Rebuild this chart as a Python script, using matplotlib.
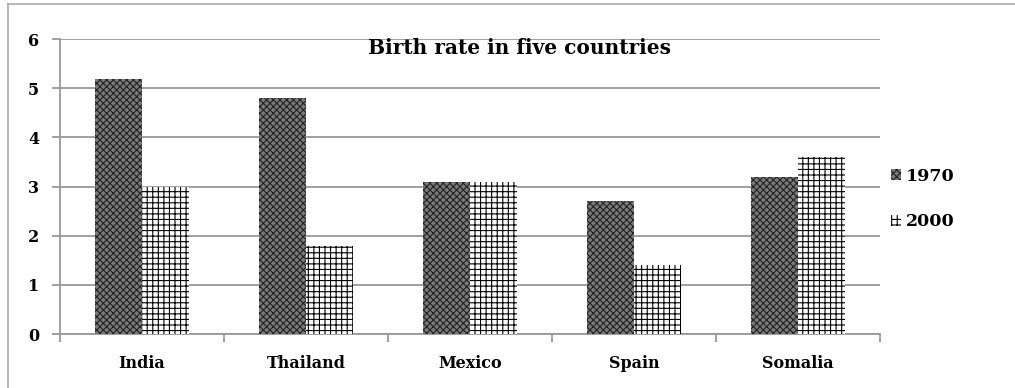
import numpy as np
import matplotlib
matplotlib.use("Agg")
from matplotlib import pyplot as plt
from matplotlib.lines import Line2D

countries = ["India", "Thailand", "Mexico", "Spain", "Somalia"]
rate_1970 = [5.2, 4.8, 3.1, 2.7, 3.2]
rate_2000 = [3.0, 1.8, 3.1, 1.4, 3.6]
series_names = ["1970", "2000"]

plt.rcParams['font.family'] = ['DejaVu Serif']
plt.rcParams['hatch.linewidth'] = 0.8

fig = plt.figure(figsize=(10.15, 3.88), dpi=100)
ax = fig.add_axes([0.059, 0.139, 0.808, 0.760])

x = np.arange(len(countries))
w = 0.287
b1 = ax.bar(x - w / 2, rate_1970, w, color='#7a7a7a', edgecolor='#222222',
            hatch='xxxxx', linewidth=0, label=series_names[0], zorder=3)
b2 = ax.bar(x + w / 2, rate_2000, w, color='white', edgecolor='black',
            hatch='+++', linewidth=0, label=series_names[1], zorder=3)

ax.set_xlim(-0.5, len(countries) - 0.5)
ax.set_ylim(0, 6)
ax.set_yticks(range(0, 7))
ax.set_xticks(x)
ax.set_xticklabels(countries, fontsize=11.5, fontweight='bold')
ax.set_xticks(np.arange(-0.5, len(countries)), minor=True)
for lbl in ax.get_yticklabels():
    lbl.set_fontsize(11.5)
    lbl.set_fontweight('bold')
ax.tick_params(axis='x', which='major', length=0, pad=15)
ax.tick_params(axis='x', which='minor', length=6, color='#999999', width=1.3)
ax.tick_params(axis='y', length=6, color='#999999', width=1.3, pad=9)
ax.yaxis.grid(True, color='#999999', linewidth=1.3, zorder=0)
ax.set_axisbelow(True)
for s in ['top', 'right']:
    ax.spines[s].set_visible(False)
for s in ['left', 'bottom']:
    ax.spines[s].set_color('#999999')
    ax.spines[s].set_linewidth(1.3)

ax.text(0.56, 0.97, "Birth rate in five countries", transform=ax.transAxes,
        ha='center', va='center', fontsize=14.5, fontweight='bold')

leg = fig.legend(handles=[b1, b2], loc='center left', bbox_to_anchor=(0.862, 0.487),
                 frameon=False, prop={'weight': 'bold', 'size': 12.5},
                 handlelength=0.6, handleheight=0.6, handletextpad=0.3, labelspacing=1.65)

# outer frame (only top and left edges visible in the crop)
fig.add_artist(Line2D([0.008, 1.0], [0.99, 0.99], transform=fig.transFigure,
                      color='#aaaaaa', linewidth=1.2))
fig.add_artist(Line2D([0.008, 0.008], [0.0, 0.99], transform=fig.transFigure,
                      color='#aaaaaa', linewidth=1.2))

fig.savefig("out.png", dpi=100)
